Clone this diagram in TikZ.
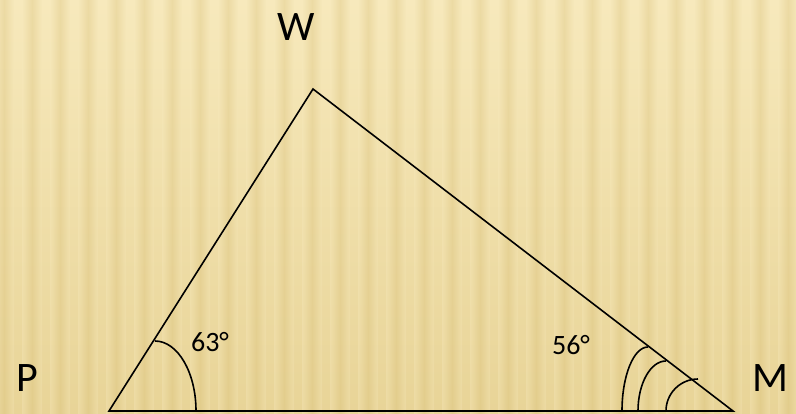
\documentclass[tikz,border=0pt]{standalone}
\usepackage{fontspec}
\setmainfont{Carlito}
\begin{document}
\begin{tikzpicture}[x=1pt,y=-1pt,
  edge/.style={line width=1.6pt,line cap=round},
  anglemark/.style={line width=1.6pt},
  vlabel/.style={font=\fontsize{42}{46}\selectfont,inner sep=0pt},
  alabel/.style={font=\fontsize{28}{32}\selectfont,inner sep=0pt}]
\definecolor{bgtop}{HTML}{F7E9BC}
\definecolor{bgbot}{HTML}{E8D497}
\definecolor{stripe}{HTML}{D9C078}
\useasboundingbox (0,0) rectangle (796,413);
\shade[top color=bgtop,bottom color=bgbot] (0,0) rectangle (796,413);
\foreach \i in {0,...,28}{
  \shade[fill opacity=0.35,left color=bgtop,right color=bgtop,middle color=stripe]
    ({\i*28-6},0) rectangle ({\i*28+14},413);
}
\coordinate (P) at (109,411);
\coordinate (W) at (313,89);
\coordinate (M) at (733,411);
\draw[edge] (P) -- (W) -- (M) -- cycle;
% angle at P
\draw[anglemark] (155,341) arc[start angle=90,end angle=0,x radius=41,y radius=-70];
% angles at M
\draw[anglemark] (648,347) arc[start angle=90,end angle=180,x radius=26,y radius=-64];
\draw[anglemark] (666,361) arc[start angle=90,end angle=180,x radius=28,y radius=-50];
\draw[anglemark] (698,379) arc[start angle=90,end angle=180,x radius=32,y radius=-32];
\node[vlabel] (lw) at (296,27) {W};
\node[vlabel] (lp) at (27,378) {P};
\node[vlabel] (lm) at (770,378) {M};
\node[alabel] (a63) at (210,342) {63°};
\node[alabel] (a56) at (571,345) {56°};
\end{tikzpicture}
\end{document}
